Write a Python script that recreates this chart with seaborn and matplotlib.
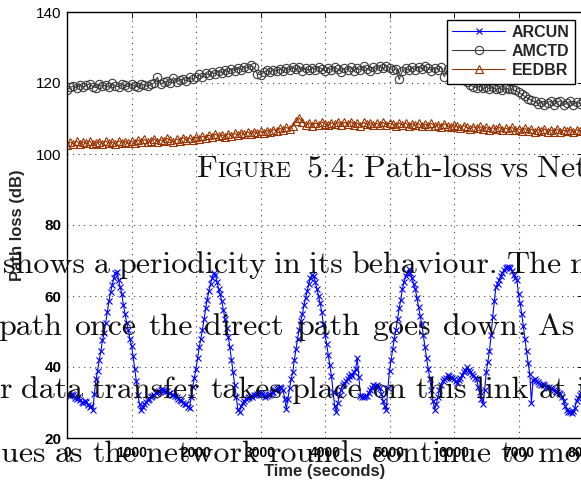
import numpy as np
import pandas as pd
import matplotlib
matplotlib.use("Agg")
import matplotlib.pyplot as plt
import seaborn as sns

# ---------------- data ----------------
series_names = ["ARCUN", "AMCTD", "EEDBR"]
x_ticks = [0, 1000, 2000, 3000, 4000, 5000, 6000, 7000, 8000]
y_ticks = [20, 40, 60, 80, 100, 120, 140]
arcun_step = 25   # seconds between samples
other_step = 50

arcun = [
    32.5, 32.0, 31.8, 32.3, 32.0, 31.2, 31.0, 31.5, 30.6, 30.2, 29.8, 30.5, 30.2, 29.4, 28.6, 29.0, 27.8, 32.5, 36.5, 39.0,
    42.0, 44.5, 47.5, 49.5, 52.5, 55.5, 58.5, 61.0, 63.0, 65.0, 66.5, 66.8, 64.5, 62.5, 60.5, 57.5, 55.0, 52.5, 50.5, 48.0,
    46.0, 43.0, 39.5, 36.0, 32.0, 29.5, 28.0, 28.8, 29.5, 30.2, 30.8, 31.0, 31.5, 31.8, 32.2, 32.6, 33.0, 33.2, 33.4, 33.8,
    33.6, 33.0, 33.2, 32.6, 32.8, 32.2, 32.0, 31.8, 31.5, 31.0, 30.8, 30.4, 30.0, 29.6, 29.5, 28.8, 28.5, 31.5, 34.5, 37.0,
    39.5, 42.5, 45.5, 48.0, 50.5, 53.5, 56.5, 59.0, 61.5, 63.5, 65.0, 66.4, 66.0, 64.0, 62.0, 60.5, 58.5, 56.0, 53.5, 51.0,
    48.5, 45.5, 42.0, 38.5, 35.0, 31.5, 28.0, 27.4, 29.0, 29.8, 30.5, 31.0, 31.2, 31.6, 31.8, 31.6, 32.0, 32.2, 32.4, 32.8,
    32.6, 32.3, 32.0, 31.6, 31.8, 32.2, 32.5, 32.8, 33.0, 33.4, 33.8, 34.0, 34.4, 34.0, 33.5, 31.0, 28.2, 31.0, 34.0, 36.5,
    38.5, 42.0, 45.0, 48.0, 50.5, 53.0, 55.0, 57.5, 59.5, 61.5, 63.5, 65.0, 66.0, 65.5, 64.0, 62.0, 60.0, 58.0, 55.5, 52.0,
    49.0, 46.5, 43.5, 40.5, 37.5, 33.0, 29.0, 27.4, 30.0, 32.0, 33.5, 34.8, 35.5, 36.0, 36.5, 37.6, 38.0, 37.6, 38.5, 39.5,
    42.5, 37.3, 31.8, 31.5, 31.6, 31.9, 31.8, 32.6, 33.5, 34.2, 35.0, 34.6, 34.8, 34.3, 34.0, 32.5, 30.5, 29.0, 28.0, 34.0,
    39.0, 42.0, 45.0, 48.0, 50.5, 53.5, 56.5, 59.0, 62.0, 64.0, 65.5, 66.5, 67.5, 66.5, 65.0, 63.5, 62.0, 59.5, 57.0, 54.5,
    52.0, 49.0, 45.5, 42.5, 39.5, 36.5, 33.5, 30.5, 28.0, 29.5, 31.5, 33.5, 35.0, 36.0, 36.5, 37.0, 37.8, 37.5, 37.2, 36.8,
    36.5, 36.0, 35.5, 36.2, 37.0, 37.8, 38.5, 39.2, 40.0, 39.2, 38.5, 38.0, 37.5, 37.0, 36.5, 34.5, 33.0, 31.0, 29.5, 33.5,
    38.5, 41.5, 44.5, 49.0, 54.0, 58.5, 62.5, 63.5, 64.5, 65.5, 66.5, 67.3, 68.0, 68.3, 68.3, 67.8, 67.0, 66.0, 65.0, 64.5,
    60.5, 58.0, 55.0, 51.5, 48.0, 44.5, 41.0, 38.0, 30.0, 36.3, 36.5, 36.0, 35.8, 35.3, 35.0, 35.2, 34.8, 34.4, 34.2, 34.4,
    34.0, 33.8, 33.5, 33.2, 33.0, 32.8, 32.5, 31.5, 30.5, 29.0, 28.0, 27.4, 27.2, 27.0, 27.5, 28.5, 30.5, 31.2, 32.0, 32.8,
    33.5,
]

amctd = [
    118.0, 118.8, 119.2, 118.6, 119.5, 118.9, 119.3, 119.8, 119.0, 118.7,
    119.6, 119.1, 119.4, 118.8, 119.9, 119.2, 118.9, 119.6, 119.3, 119.0,
    119.7, 119.2, 118.9, 119.8, 119.4, 119.1, 119.6, 120.0, 121.6, 119.7,
    120.2, 120.5, 120.0, 121.5, 120.4, 120.8, 121.2, 120.6, 121.6, 121.0,
    121.8, 122.4, 121.7, 122.8, 122.2, 123.0, 122.6, 123.4, 122.9, 123.6,
    123.2, 124.0, 123.5, 124.3, 123.8, 124.6, 124.2, 125.0, 124.4, 122.6,
    122.3, 123.0, 123.6, 123.1, 123.8, 123.3, 124.0, 123.4, 124.2, 123.7,
    124.4, 123.9, 124.6, 123.5, 124.1, 123.6, 124.3, 123.8, 124.6, 124.0,
    123.3, 124.2, 123.7, 124.5, 123.9, 123.2, 124.1, 123.8, 124.4, 123.5,
    124.2, 123.7, 124.8, 124.0, 123.4, 124.5, 123.9, 124.7, 124.1, 124.9,
    124.3, 123.6, 124.0, 121.0, 123.5, 124.2, 123.6, 124.4, 123.8, 124.6,
    124.0, 124.8, 124.2, 123.5, 124.3, 123.8, 124.5, 121.8, 124.0, 123.6,
    123.0, 122.4, 121.6, 120.8, 120.2, 119.4, 119.0, 118.6, 119.2, 118.5,
    118.9, 118.4, 118.8, 118.2, 118.6, 118.0, 118.5, 118.3, 118.2, 117.9,
    117.4, 116.8, 116.2, 115.6, 115.1, 114.8, 114.2, 114.6, 113.8, 114.5,
    114.9, 113.9, 114.6, 115.0, 113.7, 114.4, 114.8, 113.9, 114.6, 114.2,
    114.9,
]

eedbr = [
    102.6, 103.3, 102.9, 103.6, 102.8, 103.4, 103.0, 103.7, 102.7, 103.2,
    103.5, 102.9, 103.6, 103.1, 103.4, 102.8, 103.7, 103.2, 103.5, 103.0,
    103.6, 103.2, 103.9, 103.4, 104.1, 103.3, 103.8, 104.3, 103.5, 104.0,
    103.6, 104.4, 103.9, 103.4, 104.2, 103.8, 104.6, 104.0, 104.5, 103.9,
    104.8, 104.3, 105.0, 104.6, 105.3, 104.8, 105.6, 105.0, 105.4, 104.9,
    105.7, 105.2, 105.8, 105.3, 106.0, 105.5, 106.2, 105.7, 106.3, 105.9,
    106.4, 106.0, 106.6, 106.2, 106.9, 106.5, 107.2, 106.8, 107.5, 107.0,
    107.8, 109.2, 110.1, 109.0, 108.2, 108.8, 108.0, 108.7, 108.3, 109.0,
    108.5, 108.1, 108.8, 108.4, 109.0, 108.2, 108.9, 108.5, 109.1, 108.3,
    108.7, 108.0, 108.9, 108.4, 108.8, 108.1, 108.6, 108.3, 108.9, 108.2,
    108.6, 108.5, 108.0, 108.7, 108.2, 108.8, 107.9, 108.5, 108.1, 108.6,
    107.8, 108.4, 108.0, 108.6, 107.9, 108.3, 107.7, 108.5, 108.0, 107.6,
    108.2, 107.8, 107.4, 108.0, 107.5, 107.1, 107.7, 107.2, 107.8, 107.0,
    107.5, 106.9, 107.4, 107.0, 107.6, 106.8, 107.3, 106.9, 107.5, 106.7,
    107.1, 106.6, 107.2, 106.5, 107.0, 106.3, 106.9, 106.4, 107.1, 106.2,
    106.8, 106.3, 107.0, 106.1, 106.7, 106.4, 106.9, 106.2, 106.8, 106.5,
    106.9,
]

doc_lines = [
    "shows a periodicity in its behaviour. The m",
    "path once the direct path goes down. As",
    "r data transfer takes place on this link at i",
    "ues as the network rounds continue to mov",
]
caption_words = ["5.4:", "Path-loss", "vs", "Net"]

# ---------------- styling ----------------
sns.set_style("white")
plt.rcParams["font.family"] = ["Liberation Sans", "DejaVu Sans"]
plt.rcParams["axes.unicode_minus"] = False

W, H = 581, 482
fig = plt.figure(figsize=(W / 100, H / 100), dpi=100)
fig.patch.set_facecolor("white")
ax = fig.add_axes([67 / W, 44 / H, 516 / W, 426 / H])

colors = {"ARCUN": "#0000ff", "AMCTD": "#3c3c3c", "EEDBR": "#993300"}
markers = {"ARCUN": "x", "AMCTD": "o", "EEDBR": "^"}
msize = {"ARCUN": 4.5, "AMCTD": 6.0, "EEDBR": 5.5}

frames = {
    "ARCUN": pd.DataFrame({"t": np.arange(len(arcun)) * arcun_step, "v": arcun}),
    "AMCTD": pd.DataFrame({"t": np.arange(len(amctd)) * other_step, "v": amctd}),
    "EEDBR": pd.DataFrame({"t": np.arange(len(eedbr)) * other_step, "v": eedbr}),
}

for name in series_names:
    c = colors[name]
    sns.lineplot(data=frames[name], x="t", y="v", ax=ax, color=c, lw=0.8,
                 marker=markers[name], markersize=msize[name],
                 markerfacecolor="none", markeredgecolor=c,
                 markeredgewidth=0.8, label=name, estimator=None, sort=False)

ax.set_xlim(0, 8000)
ax.set_ylim(20, 140)
ax.set_xticks(x_ticks)
ax.set_yticks(y_ticks)
ax.set_xticklabels([str(v) for v in x_ticks])
ax.set_yticklabels([str(v) for v in y_ticks])

ax.tick_params(direction="in", length=4, width=0.6, top=True, right=True,
               colors="black")
ax.tick_params(axis="x", pad=6, labelsize=10)
ax.tick_params(axis="y", pad=4, labelsize=11)
for lab in ax.get_xticklabels():
    lab.set_fontweight("bold")
for lab, v in zip(ax.get_yticklabels(), y_ticks):
    if v <= 80:
        lab.set_fontweight("bold")
        lab.set_fontsize(11)

ax.grid(True, color="0.25", linestyle=(0, (1, 4)), linewidth=0.8)
for s in ax.spines.values():
    s.set_color("black")
    s.set_linewidth(1.0)

ax.set_xlabel("Time (seconds)", fontsize=12, fontweight="bold")
ax.set_ylabel("Path loss (dB)", fontsize=12, fontweight="bold", va="center")
ax.xaxis.set_label_coords(0.5, -(464 - 438) / 426)
ax.yaxis.set_label_coords((18 - 67) / 516, 0.5)

leg = ax.legend(loc="upper right", bbox_to_anchor=(575 / W, 1 - 19.5 / H),
                bbox_transform=fig.transFigure, borderaxespad=0,
                fancybox=False, framealpha=1, edgecolor="black",
                prop={"weight": "bold", "size": 11.5}, handlelength=3.3,
                handletextpad=0.4, labelspacing=0.25, borderpad=0.35)
leg.get_frame().set_linewidth(1.0)

# ---------------- overlaid document text (justified lines) ----------------
serif = ["cmr10", "DejaVu Serif"]
fs = 23
fig.canvas.draw()
r = fig.canvas.get_renderer()


def place_words(words, x_left, x_last, y_px, size=fs, color="#111111"):
    """Place words on one baseline, stretching the gaps so that the last
    word begins at x_last (justified text)."""
    yb = 1 - y_px / H
    widths = []
    for w in words[:-1]:
        t = fig.text(0, 0, w, family=serif, fontsize=size)
        widths.append(t.get_window_extent(r).width)
        t.remove()
    n = len(words)
    gap = (x_last - x_left - sum(widths)) / (n - 1) if n > 1 else 0
    x = x_left
    for i, w in enumerate(words):
        fig.text(x / W, yb, w, family=serif, fontsize=size, va="baseline",
                 color=color)
        if i < n - 1:
            x += widths[i] + gap


# caption line: small-caps "FIGURE" followed by the rest
cap_y = 176.7
yb = 1 - cap_y / H
t1 = fig.text(196.5 / W, yb, "F", family=serif, fontsize=fs, va="baseline",
              color="#111111")
bb = t1.get_window_extent(r)
fig.text(bb.x1 / W, yb, "IGURE", family=serif, fontsize=fs * 0.70,
         va="baseline", color="#111111")
place_words(caption_words, 306.5, 537.0, cap_y)

line_left = [3, -2, -1, 1]
line_last = [570, 538, 576.5, 538]
line_y = [273.3, 335, 398.3, 461.7]
for txt, lx, ll, ly in zip(doc_lines, line_left, line_last, line_y):
    place_words(txt.split(" "), lx, ll, ly)

fig.savefig("out.png", dpi=100)
